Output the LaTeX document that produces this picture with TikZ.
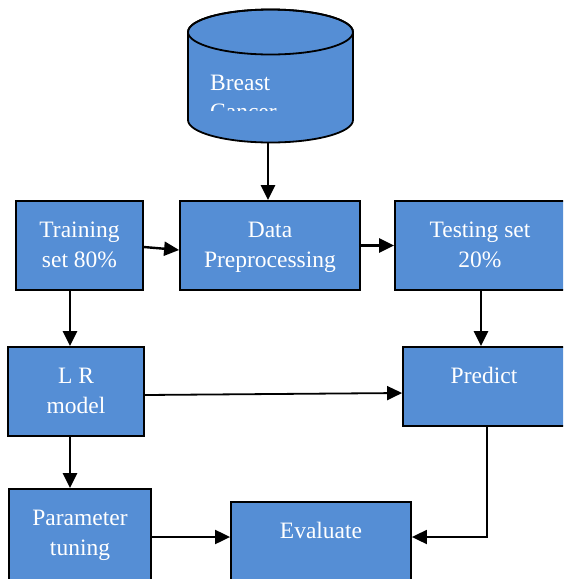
\documentclass[tikz,border=0pt]{standalone}
\usepackage{fontspec}
\setmainfont{Liberation Serif}
\usetikzlibrary{arrows.meta,calc}

\definecolor{boxblue}{RGB}{85,142,213}

% box body: fixed size, text hung from the top edge
\newcommand\blocktext[3]{\parbox[c][#2pt][t]{#1pt}{\centering\vspace*{15pt}\strut #3}}

\tikzset{
  blk/.style={draw=black, line width=1.8pt, fill=boxblue, inner sep=0pt,
    text=white, font=\fontsize{23.5}{30}\selectfont},
  arr/.style={line width=2.4pt, -{Triangle[length=15pt,width=14pt]}},
  dblabel/.style={text=white, inner sep=0pt, anchor=base west,
    font=\fontsize{23.5}{30}\selectfont}
}

\begin{document}
\begin{tikzpicture}[x=1pt,y=-1pt]
\useasboundingbox (0,0) rectangle (563,579);
\clip (0,0) rectangle (563,579);

% database cylinder
\filldraw[fill=boxblue, draw=black, line width=1.8pt]
  (188,32) -- (188,120) arc (180:0:82.5 and 22.5) -- (353,32)
  arc (360:180:82.5 and 22.5) -- cycle;
\draw[line width=1.8pt] (270.5,32) ellipse (82.5 and 22.5);
\node[dblabel] (db1) at (210,90) {Breast};
\begin{scope}
  \clip (190,60) rectangle (352,110);
  \node[dblabel] (db2) at (210,119) {Cancer};
\end{scope}
\coordinate (dbbase) at (268,143);

% process boxes
\node[blk] (tr) at (79.5,245.5) {\blocktext{127}{89}{Training\\set 80\%}};
\node[blk] (dp) at (270,245.5)  {\blocktext{180}{89}{Data\\Preprocessing}};
\node[blk] (ts) at (480,245.5)  {\blocktext{170}{89}{Testing set\\20\%}};
\node[blk] (lr) at (76,391.5)   {\blocktext{136}{89}{L R\\model}};
\node[blk] (pr) at (484,386.5)  {\blocktext{162}{79}{Predict}};
\node[blk] (pt) at (80,535)     {\blocktext{142}{92}{Parameter\\tuning}};
\node[blk] (ev) at (321,541.5)  {\blocktext{180}{79}{Evaluate}};

% connectors
\draw[arr] (dbbase) -- (dbbase |- dp.north);
\draw[arr] ([yshift=-1.5pt]tr.east) -- ([yshift=-4.5pt]dp.west);
\draw[arr] (dp.east) -- (ts.west);
\draw[arr] ([xshift=-9.5pt]tr.south) -- ([xshift=-9.5pt]tr.south |- lr.north);
\draw[arr] ([xshift=1pt]ts.south) -- ([xshift=1pt]ts.south |- pr.north);
\draw[arr, line width=1.8pt] ([yshift=-3.5pt]lr.east) -- ([yshift=-6.5pt]pr.west);
\draw[arr] ([xshift=-6pt]lr.south) -- ([xshift=-6pt]lr.south |- pt.north);
\draw[arr, line width=2pt] ([yshift=-2pt]pt.east) -- ([yshift=-2pt]pt.east -| ev.west);
\draw[arr, line width=1.8pt] ([xshift=3pt]pr.south) |- ([yshift=4.5pt]ev.east);
\end{tikzpicture}
\end{document}
